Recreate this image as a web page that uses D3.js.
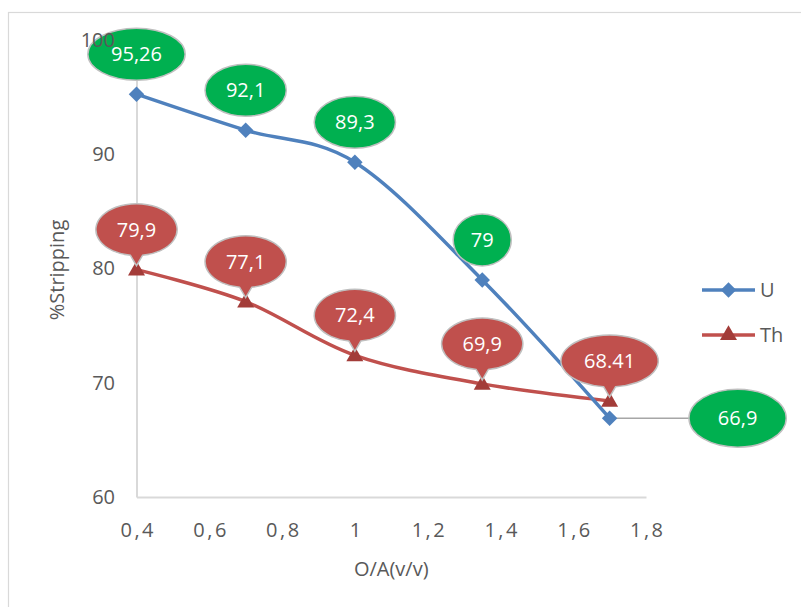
<!DOCTYPE html>
<html>
<head>
<meta charset="utf-8">
<script src="https://cdn.jsdelivr.net/npm/d3@7"></script>
<style>
  html, body { margin: 0; padding: 0; background: #fff; }
  svg { display: block; font-family: "Open Sans", sans-serif; }
</style>
</head>
<body>
<svg id="chart" width="801" height="607"></svg>
<script>
// O/A phase ratio (v/v) and stripping percentages
const ratios = [0.4, 0.7, 1.0, 1.35, 1.7];
const uValues = [95.26, 92.1, 89.3, 79, 66.9];
const thValues = [79.9, 77.1, 72.4, 69.9, 68.41];
const uLabels = ["95,26", "92,1", "89,3", "79", "66,9"];
const thLabels = ["79,9", "77,1", "72,4", "69,9", "68.41"];
const seriesNames = ["U", "Th"];
const xTicks = [0.4, 0.6, 0.8, 1, 1.2, 1.4, 1.6, 1.8];
const yTicks = [60, 70, 80, 90, 100];

const COLORS = {
  u: "#4f81bd", th: "#c0504d", thMarker: "#a33c39",
  uLabel: "#00b050", thLabel: "#c0504d",
  axis: "#d9d9d9", text: "#595959", calloutEdge: "#bfbfbf", leader: "#a6a6a6"
};

const svg = d3.select("#chart");

// outer chart frame
svg.append("rect")
  .attr("x", 8.5).attr("y", 12.5)
  .attr("width", 820).attr("height", 620)
  .attr("fill", "none").attr("stroke", COLORS.axis).attr("stroke-width", 1.2);

const x = d3.scaleLinear().domain([0.4, 1.8]).range([136.5, 646]);
const y = d3.scaleLinear().domain([60, 100]).range([497, 40]);

const fmt = d3.formatLocale({ decimal: ",", thousands: ".", grouping: [3], currency: ["", ""] }).format("~g");

// x axis
const gx = svg.append("g")
  .attr("transform", `translate(0,${y(60)})`)
  .call(d3.axisBottom(x).tickValues(xTicks).tickFormat(fmt).tickSize(0).tickSizeOuter(0).tickPadding(26))
  .attr("font-family", "Open Sans").attr("font-size", 20);
gx.select(".domain").attr("stroke", COLORS.axis).attr("stroke-width", 2);
gx.selectAll(".tick text").attr("fill", COLORS.text).attr("letter-spacing", "2.5px").attr("dx", 1.25);

// y axis line (labels are added last so they sit above the callouts)
const gyLine = svg.append("g")
  .attr("transform", `translate(${x(0.4)},0)`)
  .call(d3.axisLeft(y).tickValues(yTicks).tickFormat("").tickSize(0).tickSizeOuter(0));
gyLine.select(".domain").attr("stroke", COLORS.axis).attr("stroke-width", 2);
gyLine.selectAll(".tick").remove();

// axis titles
svg.append("text")
  .attr("x", x(1.1)).attr("y", 576)
  .attr("text-anchor", "middle").attr("font-size", 20).attr("fill", COLORS.text)
  .text("O/A(v/v)");
svg.append("text")
  .attr("transform", `translate(64,270) rotate(-90)`)
  .attr("text-anchor", "middle").attr("font-size", 20).attr("fill", COLORS.text)
  .text("%Stripping");

// smoothed series lines
const line = d3.line()
  .x((d, i) => x(ratios[i]))
  .y(d => y(d))
  .curve(d3.curveCardinal.tension(0));

const diamond = d3.symbol(d3.symbolSquare, 120);
const triangle = d3.symbol(d3.symbolTriangle, 125);

svg.append("path").datum(thValues)
  .attr("d", line).attr("fill", "none").attr("stroke", COLORS.th).attr("stroke-width", 3.5);
svg.append("path").datum(uValues)
  .attr("d", line).attr("fill", "none").attr("stroke", COLORS.u).attr("stroke-width", 3.5);

// leader line for the U label placed beside its point
const lastIdx = ratios.length - 1;
const sideOffset = 128;
svg.append("line")
  .attr("x1", x(ratios[lastIdx])).attr("y1", y(uValues[lastIdx]))
  .attr("x2", x(ratios[lastIdx]) + sideOffset - 48).attr("y2", y(uValues[lastIdx]))
  .attr("stroke", COLORS.leader).attr("stroke-width", 1.5);

// markers
svg.append("g").selectAll("path").data(thValues).join("path")
  .attr("d", triangle)
  .attr("transform", (d, i) => `translate(${x(ratios[i])},${y(d) + 1})`)
  .attr("fill", COLORS.thMarker);
svg.append("g").selectAll("path").data(uValues).join("path")
  .attr("d", diamond)
  .attr("transform", (d, i) => `translate(${x(ratios[i])},${y(d)}) rotate(45)`)
  .attr("fill", COLORS.u);

// data-label callouts
const labelLayer = svg.append("g");

function addLabel(cx, cy, label, fill, opts) {
  const g = labelLayer.append("g");
  const t = g.append("text")
    .attr("x", cx).attr("y", cy).attr("dy", "0.35em")
    .attr("text-anchor", "middle").attr("font-size", 20).attr("fill", "#fff")
    .text(label);
  const tw = t.node().getComputedTextLength();
  const rx = 0.7 * tw + 13 + (opts.extraRx || 0);
  const ry = 26 + (opts.extraRy || 0);
  if (opts.tip) {
    const w = 6;
    const yb = cy + ry * Math.sqrt(1 - (w / rx) * (w / rx));
    const d = `M${cx + w},${yb} A${rx},${ry} 0 1 0 ${cx - w},${yb} L${opts.tip[0]},${opts.tip[1]} Z`;
    g.insert("path", "text").attr("d", d)
      .attr("fill", fill).attr("stroke", COLORS.calloutEdge).attr("stroke-width", 1.5);
  } else {
    g.insert("ellipse", "text")
      .attr("cx", cx).attr("cy", cy).attr("rx", rx).attr("ry", ry)
      .attr("fill", fill).attr("stroke", COLORS.calloutEdge).attr("stroke-width", 1.5);
  }
}

thValues.forEach((v, i) => {
  const mx = x(ratios[i]), my = y(v);
  addLabel(mx, my - 40, thLabels[i], COLORS.thLabel, { tip: [mx, my - 4] });
});
uValues.forEach((v, i) => {
  const mx = x(ratios[i]), my = y(v);
  if (i === lastIdx) {
    addLabel(mx + sideOffset, my, uLabels[i], COLORS.uLabel, { extraRx: 8, extraRy: 3 });
  } else {
    addLabel(mx, my - 40, uLabels[i], COLORS.uLabel, {});
  }
});

// y tick labels
const gy = svg.append("g")
  .attr("transform", `translate(${x(0.4)},0)`)
  .call(d3.axisLeft(y).tickValues(yTicks).tickSize(0).tickPadding(21.5))
  .attr("font-family", "Open Sans").attr("font-size", 20);
gy.select(".domain").remove();
gy.selectAll(".tick text").attr("fill", COLORS.text);

// legend
const legend = svg.append("g");
const legendRows = [
  { name: seriesNames[0], color: COLORS.u, symbol: diamond, rot: 45, fill: COLORS.u, yPos: 290 },
  { name: seriesNames[1], color: COLORS.th, symbol: triangle, rot: 0, fill: COLORS.thMarker, yPos: 335 }
];
legendRows.forEach(r => {
  legend.append("line")
    .attr("x1", 702).attr("x2", 755).attr("y1", r.yPos).attr("y2", r.yPos)
    .attr("stroke", r.color).attr("stroke-width", 3.5);
  legend.append("path")
    .attr("d", r.symbol)
    .attr("transform", `translate(728.5,${r.yPos}) rotate(${r.rot})`)
    .attr("fill", r.fill);
  legend.append("text")
    .attr("x", 760).attr("y", r.yPos).attr("dy", "0.35em")
    .attr("font-size", 20).attr("fill", COLORS.text)
    .text(r.name);
});
</script>
</body>
</html>
